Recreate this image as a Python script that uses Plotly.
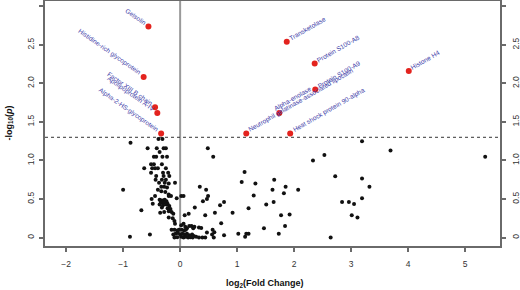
import plotly.graph_objects as go

# ---- data ----
ns_fc = [
    -0.87, -0.38, -0.31, -0.57, -0.41, -0.29, -0.25, -0.36, -0.46, -0.42, -0.31, -0.23,
    -0.51, -0.46, -0.32, -0.63, -0.49, -0.44, -0.39, -0.25, -0.51, -0.30, -0.21,
    -0.42, -0.29, -0.19, -0.43, -0.32, -0.25, -0.37, -0.27, -0.20, -0.09,
    -1.00, -0.33, -0.28, -0.23, -0.39, -0.33, -0.26, -0.20, -0.44, -0.20, -0.16, 0.02, 0.06,
    -0.50, -0.06, -0.36, -0.33, -0.30, -0.27, -0.24, -0.34, -0.31, -0.28, -0.22,
    -0.48, -0.36, -0.30, -0.24, -0.19, -0.32, -0.22, -0.17, -0.68,
    -0.35, -0.28, -0.20, -0.15, -0.12,
    -0.20, -0.13, -0.10, -0.09, 0.15, 0.08,
    0.02, 0.06, 0.09, 0.12, 0.16, 0.20, 0.23, 0.25, 0.33, 0.37,
    -0.88, -0.53,
    -0.15, -0.10, -0.05, -0.02, 0.03, 0.07, 0.10,
    -0.12, -0.08, -0.04, 0.00, 0.04, 0.08, 0.12, 0.16, 0.21, 0.24,
    -0.10, -0.05, 0.02, 0.06, 0.10, 0.14, 0.18, 0.22, 0.28, 0.33, 0.39, 0.44,
    0.47, 0.57, 0.60, 0.56, 0.59, 0.77,
    0.485, 0.58, 1.13, 1.08, 1.32, 1.65, 1.62, 1.85, 1.82, 2.07,
    0.345, 0.456, 0.49, 0.47, 0.40, 1.29, 0.77, 0.70, 1.20, 1.51, 1.64,
    0.257, 0.61, 0.44, 0.92, 1.77, 1.92, 1.84, 0.72, 1.47, 1.73, 1.02, 1.16, 1.20, 1.14,
    3.19, 3.69, 5.35, 2.33, 2.53, 2.72, 3.19, 3.32, 3.19, 2.84, 2.96, 3.05, 3.01, 3.11, 2.64,
]
ns_logp = [
    1.23, 1.28, 1.28, 1.16, 1.16, 1.16, 1.16, 1.11, 1.05, 1.05, 1.05, 1.05,
    0.95, 0.95, 0.95, 0.90, 0.90, 0.90, 0.90, 0.90, 0.84, 0.84, 0.84,
    0.80, 0.80, 0.80, 0.75, 0.75, 0.75, 0.71, 0.71, 0.70, 0.71,
    0.62, 0.66, 0.66, 0.65, 0.62, 0.60, 0.59, 0.56, 0.54, 0.54, 0.54, 0.54, 0.54,
    0.50, 0.51, 0.49, 0.48, 0.48, 0.49, 0.47, 0.46, 0.45, 0.45, 0.44,
    0.44, 0.43, 0.42, 0.43, 0.41, 0.39, 0.38, 0.37, 0.355,
    0.32, 0.33, 0.34, 0.33, 0.31,
    0.26, 0.25, 0.215, 0.18, 0.31, 0.29,
    0.16, 0.18, 0.14, 0.12, 0.15, 0.15, 0.12, 0.14, 0.13, 0.125,
    0.01, 0.04,
    0.10, 0.10, 0.09, 0.10, 0.10, 0.09, 0.10,
    0.04, 0.05, 0.06, 0.04, 0.05, 0.04, 0.05, 0.03, 0.04, 0.02,
    0.0, 0.005, 0.01, 0.0, 0.01, 0.0, 0.005, 0.0, 0.01, 0.0, 0.0, 0.0,
    0.065, 0.10, 0.07, 0.04, 0.0, 0.03,
    1.16, 1.05, 0.85, 0.72, 0.70, 0.75, 0.62, 0.66, 0.575, 0.62,
    0.66, 0.62, 0.54, 0.50, 0.47, 0.545, 0.46, 0.42, 0.38, 0.43, 0.46,
    0.39, 0.32, 0.29, 0.32, 0.29, 0.30, 0.15, 0.185, 0.12, 0.05, 0.05, 0.05, 0.05, 0.01,
    1.25, 1.13, 1.05, 1.00, 1.07, 0.795, 0.765, 0.66, 0.51, 0.46, 0.46, 0.435, 0.29, 0.26, 0.0,
]

sig_names = [
    "Gelsolin", "Histidine-rich glycoprotein", "Factor XIII B chain",
    "Apolipoprotein A-IV", "Alpha-2-HS-glycoprotein",
    "Transketolase", "Protein S100-A8", "Protein S100-A9", "Alpha-enolase",
    "Neutrophil gelatinase-associated lipocalin", "Heat shock protein 90-alpha",
    "Histone H4",
]
sig_fc = [-0.556, -0.64, -0.44, -0.40, -0.333, 1.87, 2.36, 2.37, 1.74, 1.16, 1.93, 4.01]
sig_logp = [2.74, 2.083, 1.69, 1.616, 1.349, 2.54, 2.26, 1.92, 1.616, 1.349, 1.349, 2.16]

threshold = 1.301  # -log10(0.05)
x_ticks = [-2, -1, 0, 1, 2, 3, 4, 5]
y_ticks = [0, 0.5, 1.0, 1.5, 2.0, 2.5, 3.0]
y_ticktext = ["0", "0.5", "1.0", "1.5", "2.0", "2.5", "3.0"]

FONT = "Liberation Sans, Arial, Helvetica, sans-serif"
LABEL_COLOR = "#3c3ca8"

fig = go.Figure()
fig.add_trace(go.Scatter(
    x=ns_fc, y=ns_logp, mode="markers",
    marker=dict(color="#111111", size=4, line=dict(width=0)),
    showlegend=False, hoverinfo="skip",
))
fig.add_trace(go.Scatter(
    x=sig_fc, y=sig_logp, mode="markers",
    marker=dict(color="#e3231e", size=6, line=dict(width=0)),
    showlegend=False, text=sig_names,
))
fig.add_trace(go.Scatter(x=[None], y=[None], yaxis="y2", showlegend=False))

anns = []
for name, fx, fy in zip(sig_names, sig_fc, sig_logp):
    if fx < 0:
        anns.append(dict(x=fx, y=fy, xref="x", yref="y", text=name, showarrow=False,
                         textangle=35, xanchor="right", yanchor="bottom",
                         borderpad=0, borderwidth=0, xshift=-1,
                         font=dict(family=FONT, size=6.5, color=LABEL_COLOR)))
    else:
        xs = -7 if name == "Alpha-enolase" else 1
        anns.append(dict(x=fx, y=fy, xref="x", yref="y", text=name, showarrow=False,
                         textangle=-30, xanchor="left", yanchor="bottom",
                         borderpad=0, borderwidth=0, xshift=xs, yshift=0,
                         font=dict(family=FONT, size=6.5, color=LABEL_COLOR)))

anns.append(dict(x=0.4835, y=0, xref="paper", yref="paper", yshift=-37,
                 text="<b>log<sub>2</sub>(Fold Change)</b>", showarrow=False,
                 xanchor="center", yanchor="middle",
                 font=dict(family=FONT, size=9, color="#111111")))
anns.append(dict(x=0, y=0.5, xref="paper", yref="paper", xshift=-36,
                 text="<b>-log<sub>10</sub>(<i>p</i>)</b>", showarrow=False, textangle=-90,
                 xanchor="center", yanchor="middle",
                 font=dict(family=FONT, size=9, color="#111111")))

shapes = [
    dict(type="line", xref="x", yref="paper", x0=0, x1=0, y0=0, y1=1,
         line=dict(color="#9a9a9a", width=2), layer="below"),
    dict(type="line", xref="paper", yref="y", x0=0, x1=1, y0=threshold, y1=threshold,
         line=dict(color="#333333", width=1, dash="dot"), layer="below"),
]

XR = [-2.37, 5.61]
YR = [-0.11, 3.07]
axis_common = dict(showgrid=False, zeroline=False, ticks="outside", ticklen=4,
                   tickcolor="#6a6a6a", tickwidth=2, automargin=False,
                   showline=True, linecolor="#6a6a6a", linewidth=2,
                   tickfont=dict(family=FONT, size=8.5, color="#333333"))

fig.update_layout(
    template="none",
    width=520, height=290,
    margin=dict(l=45, r=20, t=1, b=44),
    paper_bgcolor="white", plot_bgcolor="white",
    xaxis=dict(range=XR, tickvals=x_ticks, mirror=True, ticklabelstandoff=5, **axis_common),
    yaxis=dict(range=YR, tickvals=y_ticks, ticktext=y_ticktext, tickangle=-90,
               mirror=True, ticklabelstandoff=2, **axis_common),
    yaxis2=dict(range=YR, tickvals=y_ticks, ticktext=y_ticktext, tickangle=-90,
                overlaying="y", side="right", ticklabelstandoff=3, **axis_common),
    annotations=anns, shapes=shapes,
    showlegend=False,
)

fig.write_html("out.html", config={"displayModeBar": False},
               post_script="document.body.style.margin='0';document.body.style.padding='0';")
